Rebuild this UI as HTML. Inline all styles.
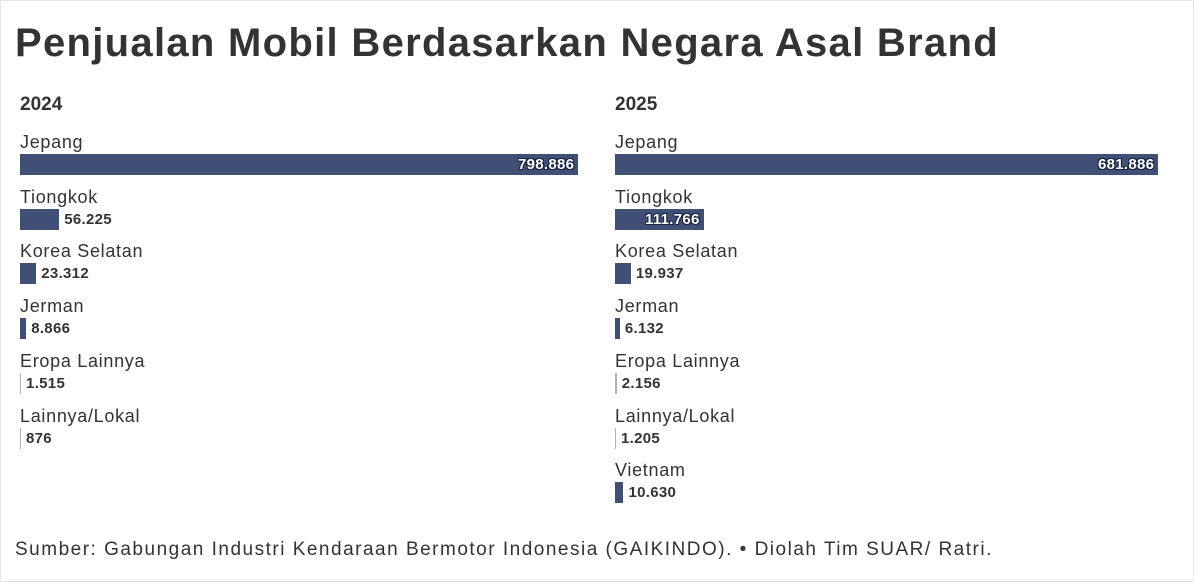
<!DOCTYPE html>
<html><head><meta charset="utf-8">
<style>
body{margin:0;background:#fff;}
#wrap{position:relative;width:1192px;height:580px;border:1px solid #e6e6e6;font-family:"Liberation Sans",sans-serif;color:#333;overflow:hidden;}
h1{position:absolute;left:14px;top:20px;margin:0;font-size:40px;font-weight:bold;color:#333;letter-spacing:1.3px;}
.yr{position:absolute;top:93px;font-size:19px;font-weight:bold;color:#333;}
.lab{position:absolute;font-size:18px;color:#333;white-space:nowrap;letter-spacing:0.7px;}
.bar{position:absolute;height:21px;background:#3f4f75;}
.val{position:absolute;font-size:15px;font-weight:bold;white-space:nowrap;line-height:21px;letter-spacing:0.3px;}
.in{color:#fff;text-shadow:-1px -1px 0 #1b2545,1px -1px 0 #1b2545,-1px 1px 0 #1b2545,1px 1px 0 #1b2545;}
.src{position:absolute;left:14px;top:538px;font-size:19px;color:#333;letter-spacing:1.5px;}
</style></head><body>
<div id="wrap">
<h1>Penjualan Mobil Berdasarkan Negara Asal Brand</h1>
<div class="yr" style="left:19px">2024</div>
<div class="yr" style="left:614px">2025</div>
<div class="src">Sumber: Gabungan Industri Kendaraan Bermotor Indonesia (GAIKINDO). • Diolah Tim SUAR/ Ratri.</div>
</div>
<script>
const cats2024=["Jepang","Tiongkok","Korea Selatan","Jerman","Eropa Lainnya","Lainnya/Lokal"];
const vals2024=[798886,56225,23312,8866,1515,876];
const cats2025=["Jepang","Tiongkok","Korea Selatan","Jerman","Eropa Lainnya","Lainnya/Lokal","Vietnam"];
const vals2025=[681886,111766,19937,6132,2156,1205,10630];
const wrap=document.getElementById('wrap');
function fmt(v){return v.toString().replace(/\B(?=(\d{3})+(?!\d))/g,'.');}
function panel(cats,vals,x0,w,key){
  const max=Math.max(...vals);
  const xs=v=>Math.max(1,v/max*w);
  cats.forEach((c,i)=>{
    const y=131+i*54.7;
    const l=document.createElement('div');l.className='lab';
    
    
    l.style.left=x0+'px';l.style.top=y+'px';l.textContent=c;wrap.appendChild(l);
    const b=document.createElement('div');b.className='bar';
    
    
    const bw=xs(vals[i]);
    b.style.left=x0+'px';b.style.top=(y+22)+'px';b.style.width=bw+'px';
    if(bw<3){b.style.background='#aab2c6';}
    wrap.appendChild(b);
    const t=document.createElement('div');t.className='val';
    
    
    t.textContent=fmt(vals[i]);t.style.top=(y+22)+'px';
    wrap.appendChild(t);
    const tw=t.offsetWidth;
    if(bw>tw+10){t.classList.add('in');t.style.left=(x0+bw-tw-4)+'px';}
    else{t.style.left=(x0+bw+5)+'px';t.style.color='#333';}
  });
}
panel(cats2024,vals2024,19,558,'2024');
panel(cats2025,vals2025,614,543,'2025');
</script>
</body></html>
